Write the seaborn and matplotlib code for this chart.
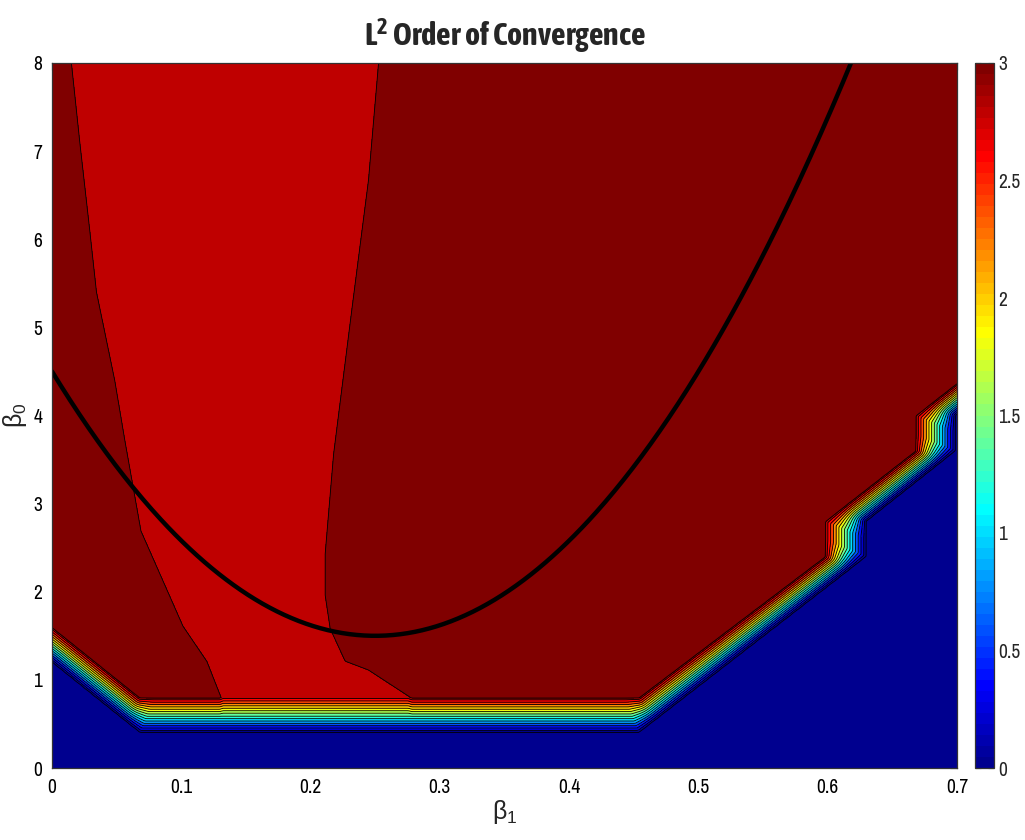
import numpy as np
import matplotlib
matplotlib.use("Agg")
import matplotlib.pyplot as plt
import matplotlib.font_manager as fm
from matplotlib.path import Path
from matplotlib.colors import ListedColormap, Normalize
from matplotlib.cm import ScalarMappable
import seaborn as sns

# ---------------- data ----------------
b1_limits = [0.0, 0.7]
b0_limits = [0.0, 8.0]
x_ticks = [0, 0.1, 0.2, 0.3, 0.4, 0.5, 0.6, 0.7]
x_tick_labels = ["0", "0.1", "0.2", "0.3", "0.4", "0.5", "0.6", "0.7"]
y_ticks = [0, 1, 2, 3, 4, 5, 6, 7, 8]
y_tick_labels = ["0", "1", "2", "3", "4", "5", "6", "7", "8"]
cbar_ticks = [0, 0.5, 1, 1.5, 2, 2.5, 3]
cbar_tick_labels = ["0", "0.5", "1", "1.5", "2", "2.5", "3"]

# lower edge of the order-3 plateau (beta1, beta0)
red_edge_b1 = [-0.01, 0.0, 0.068, 0.454, 0.598, 0.598, 0.668, 0.668, 0.71]
red_edge_b0 = [1.71, 1.6, 0.8, 0.8, 2.4, 2.8, 3.6, 4.0, 4.48]
# upper edge of the order-0 region
blue_edge_b1 = [-0.01, 0.0, 0.068, 0.454, 0.630, 0.630, 0.699, 0.699, 0.71]
blue_edge_b0 = [1.31, 1.2, 0.4, 0.4, 2.4, 2.8, 3.6, 4.0, 4.13]
# inner zone of slightly lower order: left edge (top -> bottom)
inner_left_b1 = [0.0145, 0.0152, 0.0217, 0.0294, 0.0346, 0.0487, 0.0565, 0.069, 0.1015, 0.120, 0.131, 0.131]
inner_left_b0 = [8.2, 8.0, 7.1, 6.1, 5.4, 4.4, 3.72, 2.69, 1.61, 1.21, 0.8, 0.6]
# right edge (bottom -> top)
inner_right_b1 = [0.277, 0.277, 0.2446, 0.2266, 0.215, 0.2111, 0.2111, 0.2176, 0.2318, 0.2446, 0.2524, 0.2534]
inner_right_b0 = [0.6, 0.8, 1.11, 1.21, 1.58, 1.96, 2.43, 3.56, 5.21, 6.67, 8.0, 8.2]

plateau_order = 3.0
inner_order = 2.88
blue_order = 0.0

# stability curve beta0 = c2*b1^2 + c1*b1 + c0
curve_coeffs = [48.0, -24.0, 4.5]

contour_levels = [0, 0.2, 0.4, 0.6, 0.8, 1.0, 1.2, 1.4, 1.6, 1.8, 2.0, 2.2,
                  2.4, 2.6, 2.8, 2.95, 3.05]


# ---------------- helpers ----------------
def matlab_jet(m=64):
    n = int(np.ceil(m / 4))
    u = np.concatenate([np.arange(1, n + 1) / n, np.ones(n - 1), np.arange(n, 0, -1) / n])
    g = int(np.ceil(n / 2)) - (1 if m % 4 == 1 else 0) + np.arange(1, len(u) + 1)
    r = g + n
    b = g - n
    J = np.zeros((m, 3))
    ok = r <= m
    J[r[ok] - 1, 0] = u[ok]
    ok = g <= m
    J[g[ok] - 1, 1] = u[ok]
    ok = b >= 1
    J[b[ok] - 1, 2] = u[ok]
    return J


def seg_dist(qx, qy, xs, ys):
    d = np.full(qx.shape, np.inf)
    for i in range(len(xs) - 1):
        ax_, ay_ = xs[i], ys[i]
        vx, vy = xs[i + 1] - ax_, ys[i + 1] - ay_
        L2 = vx * vx + vy * vy
        if L2 == 0:
            t = 0.0
        else:
            t = np.clip(((qx - ax_) * vx + (qy - ay_) * vy) / L2, 0, 1)
        d = np.minimum(d, np.hypot(qx - (ax_ + t * vx), qy - (ay_ + t * vy)))
    return d


# ---------------- build the field ----------------
gx = np.linspace(b1_limits[0], b1_limits[1], 561)
gy = np.linspace(b0_limits[0], b0_limits[1], 641)
BX, BY = np.meshgrid(gx, gy)
pts = np.column_stack([BX.ravel(), BY.ravel()])

blue_poly = list(zip(blue_edge_b1, blue_edge_b0)) + [(0.71, -1.0), (-0.01, -1.0)]
red_poly = list(zip(red_edge_b1, red_edge_b0)) + [(0.71, 9.0), (-0.01, 9.0)]
in_blue = Path(blue_poly).contains_points(pts).reshape(BX.shape)
in_red = Path(red_poly).contains_points(pts).reshape(BX.shape)

sx, sy = 0.03, 0.4
dB = seg_dist(BX / sx, BY / sy, np.array(blue_edge_b1) / sx, np.array(blue_edge_b0) / sy)
dR = seg_dist(BX / sx, BY / sy, np.array(red_edge_b1) / sx, np.array(red_edge_b0) / sy)
frac = np.where(in_blue, 0.0, np.where(in_red, 1.0, dB / (dB + dR + 1e-12)))

inner_x = np.array(inner_left_b1 + inner_right_b1 + [inner_left_b1[0]])
inner_y = np.array(inner_left_b0 + inner_right_b0 + [inner_left_b0[0]])
in_inner = Path(np.column_stack([inner_x, inner_y])).contains_points(pts).reshape(BX.shape)
kx, ky = 905 / 0.7, 705 / 8.0
sd = seg_dist(BX * kx, BY * ky, inner_x * kx, inner_y * ky)
sd = np.where(in_inner, sd, -sd)
s = np.clip(0.5 + sd / 3.0, 0, 1)
Z_top = plateau_order + (inner_order - plateau_order) * s
Z = blue_order + (Z_top - blue_order) * frac

# colours: MATLAB-style jet(64), each band coloured at its lower level,
# the top band (order 3) gets the last colour
jet64 = matlab_jet(64)
band_colors = []
for lo in contour_levels[:-1]:
    idx = min(63, int(np.floor(lo / 3.0 * 64)))
    band_colors.append(jet64[idx])
band_colors[-1] = jet64[63]

# ---------------- fonts / style ----------------
sns.set_style("white")


def wnum(w):
    if isinstance(w, (int, float)):
        return int(w)
    return fm.weight_dict.get(str(w), 400)


info = {}
for f in fm.fontManager.ttflist:
    nm = f.name
    if ("Narrow" in nm or "Condensed" in nm) and "Mono" not in nm and "Serif" not in nm:
        d = info.setdefault(nm, {"bold": False, "regular": None})
        if f.style == "normal":
            w = wnum(f.weight)
            if w >= 600:
                d["bold"] = True
            elif 350 <= w <= 500:
                d["regular"] = f.fname

narrow_regular = None
narrow_bold = None
for nm in sorted(info):
    if info[nm]["regular"] and narrow_regular is None:
        narrow_regular = nm
    if info[nm]["bold"] and narrow_bold is None:
        narrow_bold = nm
if narrow_regular is None:
    narrow_regular = "Liberation Sans"
if narrow_bold is None:
    title_font, title_size = "Liberation Sans", 17
else:
    title_font, title_size = narrow_bold, 23

plt.rcParams["font.family"] = [narrow_regular, "DejaVu Sans"]
plt.rcParams["mathtext.fontset"] = "custom"
plt.rcParams["mathtext.rm"] = "Liberation Sans"
plt.rcParams["mathtext.it"] = "Liberation Sans:italic"
plt.rcParams["mathtext.bf"] = title_font + ":bold"

fig = plt.figure(figsize=(10.25, 8.4), dpi=100)
ax = fig.add_axes([52 / 1025, 1 - 768 / 840, 905 / 1025, 705 / 840])
cax = fig.add_axes([975 / 1025, 1 - 768 / 840, 19 / 1025, 705 / 840])

ax.contourf(BX, BY, Z, levels=contour_levels, colors=band_colors)
ax.contour(BX, BY, Z, levels=[0.03] + contour_levels[1:-1], colors="k", linewidths=0.6)

xc = np.linspace(b1_limits[0], b1_limits[1], 500)
yc = np.polyval(curve_coeffs, xc)
sns.lineplot(x=xc, y=yc, color="k", linewidth=3.2, ax=ax, sort=False)

ax.set_xlim(b1_limits)
ax.set_ylim(b0_limits)
ax.set_xticks(x_ticks)
ax.set_xticklabels(x_tick_labels)
ax.set_yticks(y_ticks)
ax.set_yticklabels(y_tick_labels)
ax.tick_params(direction="in", length=5, width=0.8, top=True, right=True,
               labelsize=14, pad=7, colors="k")
for sp in ax.spines.values():
    sp.set_visible(True)
    sp.set_color("#333333")
    sp.set_linewidth(0.9)

ax.set_title(r"L$^{\mathbf{2}}$ Order of Convergence", fontsize=title_size,
             fontweight="bold", family=title_font, pad=12)
ax.set_xlabel(r"$\mathrm{\beta}_{\mathrm{1}}$", fontsize=18, labelpad=1)
ax.set_ylabel(r"$\mathrm{\beta}_{\mathrm{0}}$", fontsize=18, labelpad=3)

sm = ScalarMappable(norm=Normalize(0, 3), cmap=ListedColormap(jet64))
cb = fig.colorbar(sm, cax=cax, ticks=cbar_ticks)
cb.ax.set_yticklabels(cbar_tick_labels)
cb.ax.tick_params(direction="in", length=4, width=0.8, left=True, right=True,
                  labelsize=14, pad=3)
cb.outline.set_edgecolor("#333333")
cb.outline.set_linewidth(0.9)

fig.savefig("out.png", dpi=100)
